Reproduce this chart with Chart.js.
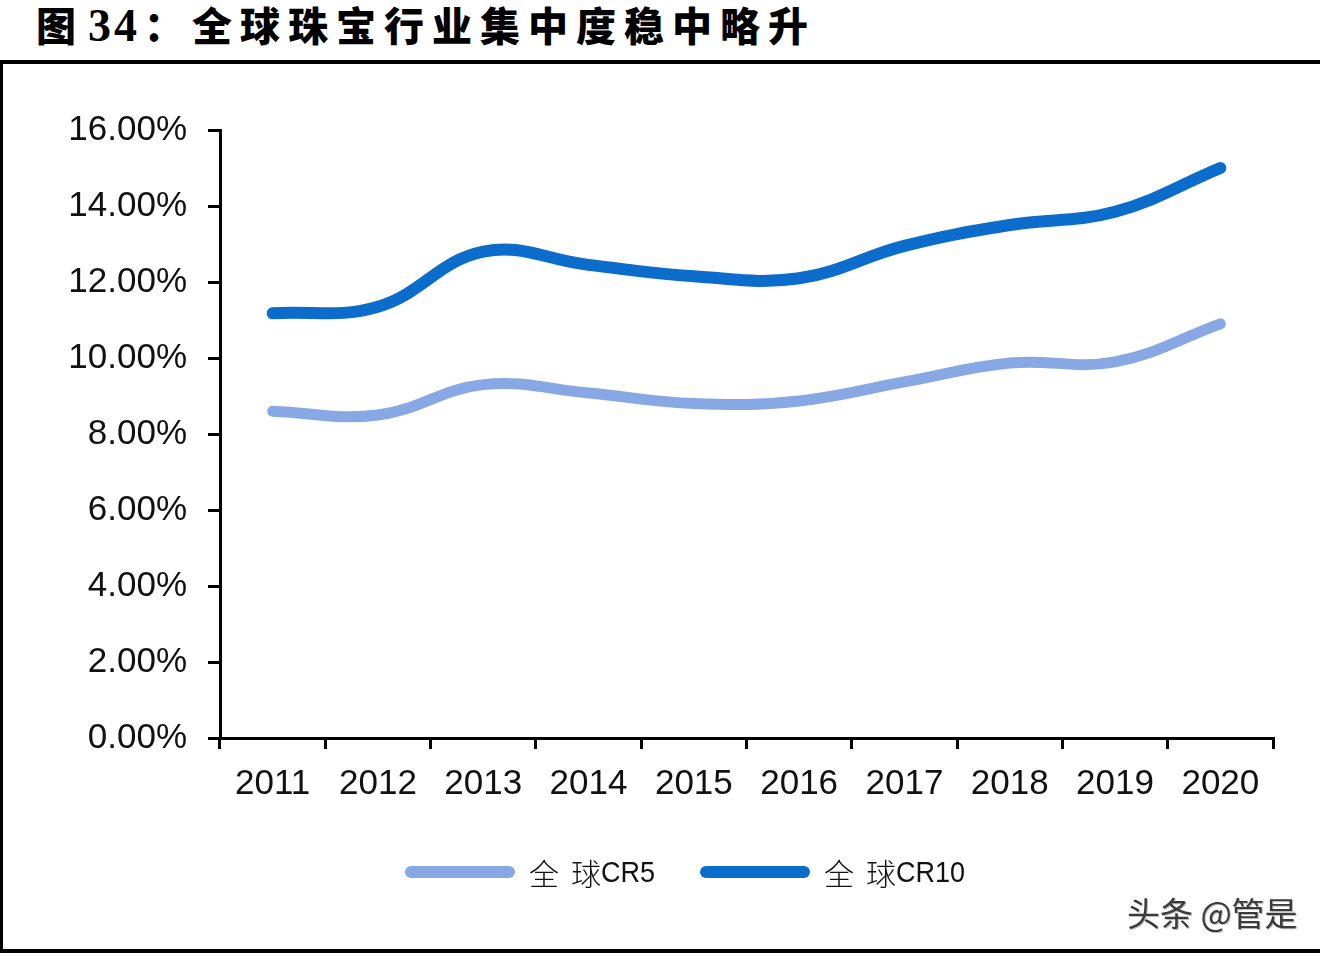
<!DOCTYPE html>
<html>
<head>
<meta charset="utf-8">
<script src="https://cdn.jsdelivr.net/npm/chart.js@4/dist/chart.umd.min.js"></script>
<style>
  body { margin: 0; width: 1330px; height: 956px; background: #fff; position: relative; overflow: hidden; }
  #title { position: absolute; left: 36px; top: -5px; font-family: "Liberation Serif", "Noto Sans CJK SC"; font-weight: 900; font-size: 40px; color: #000; white-space: nowrap; }
  #title .num { font-size: 46px; letter-spacing: 3px; margin-left: 12px; }
  #title .cn { letter-spacing: 8px; margin-left: 4px; }
  .rule { position: absolute; background: #000; }
  #wrap { position: absolute; left: 0; top: 0; width: 1330px; height: 956px; }
  .legend { position: absolute; top: 852px; height: 40px; display: flex; align-items: center; }
  .swatch { width: 110px; height: 12px; border-radius: 6px; margin-right: 14px; }
  .ltext { font-size: 30px; color: #111; white-space: nowrap; display: flex; align-items: center; }
  .ltext .cn { font-family: "Noto Sans CJK SC"; font-weight: 300; }
  .ltext .cn1 { margin-right: 12px; }
  .ltext .en { font-family: "Liberation Sans"; display: inline-block; transform: scaleX(0.9); transform-origin: left center; }
  #mark { position: absolute; left: 1127px; top: 888px; font-family: "Noto Sans CJK SC"; font-size: 33px; color: #3a3a3a; text-shadow: 1px 1px 0 #bbb; white-space: nowrap; }
</style>
</head>
<body>
<div id="title">图<span class="num">34</span><span class="cn">：全球珠宝行业集中度稳中略升</span></div>
<div class="rule" style="left:0;top:60px;width:1320px;height:4px"></div>
<div class="rule" style="left:0;top:62px;width:3px;height:890px"></div>
<div class="rule" style="left:0;top:949px;width:1320px;height:4px"></div>
<div id="wrap"><canvas id="chart" width="1330" height="956"></canvas></div>
<div class="legend" style="left:405px">
  <div class="swatch" style="background:#87a8e4"></div>
  <div class="ltext"><span class="cn cn1">全</span><span class="cn">球</span><span class="en">CR5</span></div>
</div>
<div class="legend" style="left:700px">
  <div class="swatch" style="background:#0b6ccc"></div>
  <div class="ltext"><span class="cn cn1">全</span><span class="cn">球</span><span class="en">CR10</span></div>
</div>
<div id="mark">头条 @管是</div>
<script>
const years = ['2011', '2012', '2013', '2014', '2015', '2016', '2017', '2018', '2019', '2020'];
const cr5 = [8.6, 8.5, 9.3, 9.08, 8.8, 8.87, 9.37, 9.87, 9.9, 10.9];
const cr10 = [11.18, 11.35, 12.8, 12.45, 12.15, 12.1, 12.95, 13.5, 13.85, 15.0];
const yTicks = [0, 2, 4, 6, 8, 10, 12, 14, 16];

const ctx = document.getElementById('chart').getContext('2d');

new Chart(ctx, {
    type: 'line',
    data: {
        labels: years,
        datasets: [{
            label: '全球CR5',
            data: cr5,
            borderColor: '#87a8e4',
            backgroundColor: '#87a8e4',
            borderWidth: 11,
            borderCapStyle: 'round',
            borderJoinStyle: 'round',
            pointRadius: 0,
            tension: 0.4,
            fill: false
        },
        {
            label: '全球CR10',
            data: cr10,
            borderColor: '#0b6ccc',
            backgroundColor: '#0b6ccc',
            borderWidth: 12,
            borderCapStyle: 'round',
            borderJoinStyle: 'round',
            pointRadius: 0,
            tension: 0.4,
            fill: false
        }]
    },
    options: {
        responsive: false,
        animation: false,
        layout: { padding: { left: 0, right: 57, top: 130, bottom: 0 } },
        plugins: {
            legend: { display: false },
            tooltip: { enabled: false }
        },
        scales: {
            x: {
                offset: true,
                grid: { offset: true, drawOnChartArea: false, drawTicks: true, tickLength: 11, color: '#000', lineWidth: 3 },
                border: { color: '#000', width: 3 },
                ticks: { color: '#111', padding: 14, maxRotation: 0, font: { family: 'Liberation Sans', size: 35 } },
                afterFit: scale => { scale.height = 218; }
            },
            y: {
                min: 0,
                max: 16,
                afterBuildTicks: scale => { scale.ticks = yTicks.map(v => ({ value: v })); },
                grid: { drawOnChartArea: false, drawTicks: true, tickLength: 12, color: '#000', lineWidth: 3 },
                border: { color: '#000', width: 3 },
                ticks: { color: '#111', padding: 21, font: { family: 'Liberation Sans', size: 35 }, callback: v => v.toFixed(2) + '%' },
                afterFit: scale => { scale.width = 220; }
            }
        }
    }
});
</script>
</body>
</html>
